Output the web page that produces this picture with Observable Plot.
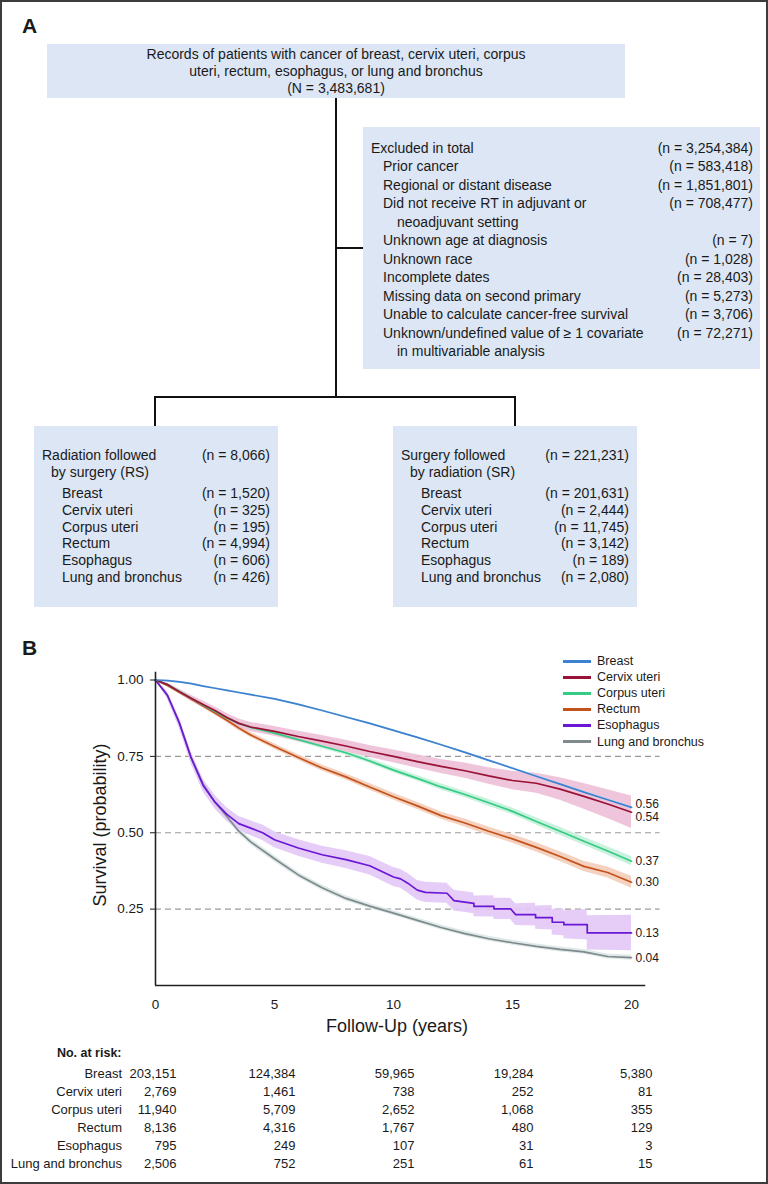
<!DOCTYPE html>
<html><head><meta charset="utf-8">
<script src="https://cdn.jsdelivr.net/npm/d3@7"></script>
<script src="https://cdn.jsdelivr.net/npm/@observablehq/plot@0.6"></script>
<style>
html,body{margin:0;padding:0;background:#fff;}
#fig{position:relative;width:768px;height:1184px;overflow:hidden;font-family:"Liberation Sans",Arial,Helvetica,sans-serif;color:#1a1a1a;background:#fff;}
#frame{position:absolute;left:0;top:0;width:768px;height:1184px;box-sizing:border-box;border:2px solid #3c3c3c;pointer-events:none;}
.t{position:absolute;white-space:nowrap;}
.box{position:absolute;background:#dce6f5;}
.ln{position:absolute;background:#111;}
</style></head><body><div id="fig"><div id="frame"></div></div>
<script>
// ---------------- data ----------------
const sites = ["Breast","Cervix uteri","Corpus uteri","Rectum","Esophagus","Lung and bronchus"];
const topLines = ["Records of patients with cancer of breast, cervix uteri, corpus","uteri, rectum, esophagus, or lung and bronchus","(N = 3,483,681)"];
const exclusionLabels = ["Excluded in total","Prior cancer","Regional or distant disease","Did not receive RT in adjuvant or","neoadjuvant setting","Unknown age at diagnosis","Unknown race","Incomplete dates","Missing data on second primary","Unable to calculate cancer-free survival","Unknown/undefined value of \u2265 1 covariate","in multivariable analysis"];
const exclusionCounts = [3254384,583418,1851801,708477,null,7,1028,28403,5273,3706,72271,null];
const exclusionLevels = [0,1,1,1,2,1,1,1,1,1,1,2];
const rsTitle = ["Radiation followed","by surgery (RS)"];
const srTitle = ["Surgery followed","by radiation (SR)"];
const rsTotal = 8066, srTotal = 221231;
const rsCounts = [1520,325,195,4994,606,426];
const srCounts = [201631,2444,11745,3142,189,2080];

const years = [0,0.5,1,1.5,2,2.5,3,3.5,4,5,6,7,8,9,10,11,12,13,14,15,16,17,18,19,20];
const survBreast = [1,0.998,0.994,0.988,0.98,0.973,0.966,0.959,0.952,0.938,0.920,0.900,0.879,0.858,0.835,0.812,0.788,0.763,0.737,0.711,0.685,0.659,0.633,0.608,0.583];
const survCervix = [1,0.985,0.962,0.94,0.92,0.9,0.877,0.858,0.846,0.832,0.815,0.800,0.784,0.766,0.750,0.733,0.717,0.703,0.686,0.671,0.662,0.643,0.619,0.594,0.567];
const survCorpus = [1,0.985,0.963,0.94,0.918,0.897,0.876,0.858,0.845,0.826,0.805,0.783,0.762,0.735,0.705,0.678,0.650,0.625,0.598,0.570,0.537,0.505,0.472,0.440,0.407];
const survRectum = [1,0.982,0.96,0.938,0.915,0.892,0.868,0.843,0.82,0.782,0.746,0.712,0.683,0.650,0.618,0.588,0.556,0.532,0.505,0.480,0.452,0.422,0.390,0.370,0.338];
const survLung = [1,0.95,0.86,0.745,0.66,0.6,0.553,0.505,0.47,0.415,0.362,0.320,0.285,0.260,0.237,0.213,0.190,0.170,0.153,0.140,0.128,0.118,0.110,0.095,0.091];
const ciBreast = [0,0.002,0.002,0.002,0.002,0.002,0.002,0.002,0.002,0.002,0.002,0.002,0.002,0.002,0.002,0.002,0.002,0.003,0.003,0.003,0.003,0.003,0.003,0.003,0.003];
const ciCervix = [0,0.005,0.008,0.01,0.011,0.012,0.013,0.014,0.015,0.016,0.017,0.018,0.019,0.02,0.021,0.022,0.023,0.025,0.027,0.03,0.033,0.037,0.042,0.047,0.053];
const ciCorpus = [0,0.003,0.004,0.005,0.005,0.006,0.006,0.006,0.007,0.007,0.007,0.008,0.008,0.008,0.009,0.009,0.01,0.01,0.011,0.011,0.012,0.013,0.013,0.014,0.015];
const ciRectum = [0,0.004,0.005,0.006,0.007,0.007,0.008,0.008,0.008,0.009,0.009,0.01,0.01,0.011,0.011,0.012,0.012,0.013,0.014,0.014,0.015,0.016,0.017,0.018,0.02];
const ciLung = [0,0.006,0.008,0.009,0.01,0.01,0.01,0.01,0.01,0.01,0.009,0.009,0.009,0.008,0.008,0.008,0.008,0.008,0.008,0.008,0.008,0.008,0.008,0.008,0.008];

const esoYears = [0,0.5,1,1.5,2,2.5,3,3.5,4,4.5,5,6,7,8,9,10,10.3,10.6,11,11.34,12.25,12.54,13.38,13.38,14.22,14.22,14.92,15.13,15.97,15.97,16.67,16.67,17.16,17.16,18.14,18.14,20];
const survEso = [1,0.95,0.86,0.745,0.655,0.6,0.56,0.53,0.515,0.5,0.477,0.45,0.428,0.412,0.392,0.355,0.349,0.335,0.312,0.305,0.302,0.278,0.269,0.259,0.259,0.251,0.251,0.232,0.232,0.222,0.222,0.207,0.207,0.199,0.199,0.172,0.172];
const ciEso = [0,0.012,0.018,0.02,0.021,0.022,0.022,0.023,0.024,0.025,0.026,0.027,0.028,0.029,0.03,0.031,0.031,0.032,0.032,0.033,0.033,0.034,0.034,0.034,0.035,0.035,0.035,0.036,0.037,0.038,0.04,0.042,0.044,0.046,0.05,0.056,0.058];

const endLabels = ["0.56","0.54","0.37","0.30","0.13","0.04"];
const lineColors = ["#3b82d0","#9a1237","#34cc85","#c4521c","#6b17d6","#7f8a8c"];
const bandColors = ["#c8dcf3","#ecbfd6","#c4f0da","#f3cdb8","#e2c8f6","#dbe7e7"];

const xTicks = [0,5,10,15,20];
const yTicks = [0.25,0.5,0.75,1];
const gridLevels = [0.25,0.5,0.75];

const riskYears = [0,5,10,15,20];
const riskBreast = [203151,124384,59965,19284,5380];
const riskCervix = [2769,1461,738,252,81];
const riskCorpus = [11940,5709,2652,1068,355];
const riskRectum = [8136,4316,1767,480,129];
const riskEso = [795,249,107,31,3];
const riskLung = [2506,752,251,61,15];

// ---------------- helpers ----------------
const fig = document.getElementById("fig");
const fmt = d3.format(",");
function addText(str, x, yc, o = {}) {
  const size = o.size || 14, lh = o.lh || 18;
  const d = document.createElement("div");
  d.className = "t";
  d.textContent = str;
  d.style.fontSize = size + "px";
  d.style.lineHeight = lh + "px";
  d.style.top = (yc - lh / 2) + "px";
  if (o.weight) d.style.fontWeight = o.weight;
  if (o.font) d.style.fontFamily = o.font;
  if (o.anchor === "end") d.style.right = (768 - x) + "px";
  else if (o.anchor === "middle") { d.style.left = (x - 400) + "px"; d.style.width = "800px"; d.style.textAlign = "center"; }
  else d.style.left = x + "px";
  fig.appendChild(d);
  return d;
}
function addBox(cls, l, t, w, h, bg) {
  const d = document.createElement("div");
  d.className = cls;
  Object.assign(d.style, {left: l + "px", top: t + "px", width: w + "px", height: h + "px"});
  if (bg) d.style.background = bg;
  fig.appendChild(d);
  return d;
}

// ---------------- Panel A ----------------
addText("A", 22, 25.5, {size: 21, weight: "bold", lh: 24});
addBox("box", 47, 44, 578, 54);
topLines.forEach((s, i) => addText(s, 336, 54.5 + i * 16.8, {anchor: "middle", lh: 17}));

addBox("ln", 335, 98, 2, 300);
addBox("ln", 335, 247, 28, 2);
addBox("ln", 154, 396, 362, 2);
addBox("ln", 154, 396, 2, 30);
addBox("ln", 514, 396, 2, 30);

addBox("box", 363, 127, 397, 242);
const indentX = [371, 383, 397];
exclusionLabels.forEach((s, i) => {
  const yc = 147.5 + i * 18.5;
  addText(s, indentX[exclusionLevels[i]], yc);
  if (exclusionCounts[i] != null) addText(`(n = ${fmt(exclusionCounts[i])})`, 753, yc, {anchor: "end"});
});

function groupBox(left, title, total, counts) {
  addBox("box", left, 426, 244, 181);
  addText(title[0], left + 8, 455);
  addText(`(n = ${fmt(total)})`, left + 236, 455, {anchor: "end"});
  addText(title[1], left + 17, 472);
  sites.forEach((s, i) => {
    const yc = 493 + i * 16.8;
    addText(s, left + 28, yc);
    addText(`(n = ${fmt(counts[i])})`, left + 236, yc, {anchor: "end"});
  });
}
groupBox(34, rsTitle, rsTotal, rsCounts);
groupBox(393, srTitle, srTotal, srCounts);

// ---------------- Panel B ----------------
addText("B", 22, 647.5, {size: 21, weight: "bold", lh: 24});

const series = [
  {site: sites[0], t: years, s: survBreast, ci: ciBreast},
  {site: sites[1], t: years, s: survCervix, ci: ciCervix},
  {site: sites[2], t: years, s: survCorpus, ci: ciCorpus},
  {site: sites[3], t: years, s: survRectum, ci: ciRectum},
  {site: sites[4], t: esoYears, s: survEso, ci: ciEso},
  {site: sites[5], t: years, s: survLung, ci: ciLung}
].map((d, k) => ({...d, color: lineColors[k], band: bandColors[k], label: endLabels[k],
  rows: d.t.map((t, i) => ({t, s: d.s[i], lo: d.s[i] - d.ci[i], hi: d.s[i] + d.ci[i]}))}));

const drawOrder = [5, 4, 3, 2, 1, 0];
const labelDy = [-3, 5, 0, 0, 0, 0];

const marks = [
  Plot.ruleY(gridLevels, {x1: 0, x2: 21.2, stroke: "#9a9a9a", strokeWidth: 1.2, strokeDasharray: "6,4"})
];
drawOrder.forEach(k => marks.push(Plot.areaY(series[k].rows, {x: "t", y1: "lo", y2: "hi", fill: series[k].band, fillOpacity: 0.9})));
drawOrder.forEach(k => marks.push(Plot.line(series[k].rows, {x: "t", y: "s", stroke: series[k].color, strokeWidth: 1.7})));
series.forEach((d, k) => marks.push(Plot.text([d.rows[d.rows.length - 1]], {x: "t", y: "s", text: () => d.label, dx: 4, dy: labelDy[k], textAnchor: "start", fontSize: 12, fill: "#1a1a1a"})));
marks.push(
  Plot.ruleX([0], {y1: 0, y2: 1.025, stroke: "#222", strokeWidth: 1.6}),
  Plot.ruleY([0], {x1: 0, x2: 20.6, stroke: "#222", strokeWidth: 1.6}),
  Plot.axisY({ticks: yTicks, tickFormat: d3.format(".2f"), tickSize: 5, tickPadding: 7, label: null}),
  Plot.axisX({ticks: xTicks, tickSize: 0, tickPadding: 14, label: null})
);

const chart = Plot.plot({
  width: 768, height: 400,
  marginTop: 39.5, marginBottom: 55, marginLeft: 155, marginRight: 137,
  x: {domain: [0, 20]},
  y: {domain: [0, 1]},
  style: {fontFamily: "'Liberation Sans', Arial, sans-serif", fontSize: "13.5px", color: "#1a1a1a", background: "transparent", overflow: "visible"},
  marks
});
Object.assign(chart.style, {position: "absolute", left: "0px", top: "640px"});
fig.appendChild(chart);

// axis titles
const yl = addText("Survival (probability)", 100, 825, {anchor: "middle", size: 18, lh: 22});
yl.style.transform = "rotate(-90deg)";
addText("Follow-Up (years)", 397, 1026, {anchor: "middle", size: 18, lh: 22});

// legend
series.forEach((d, k) => {
  const yc = 661 + k * 16.1;
  addBox("ln", 563, yc - 1.5, 28, 3, d.color);
  addText(d.site, 597, yc, {size: 12.5, lh: 16});
});

// at-risk table
addText("No. at risk:", 121.5, 1053, {anchor: "end", size: 12.5, weight: "bold", lh: 16});
const riskTable = [riskBreast, riskCervix, riskCorpus, riskRectum, riskEso, riskLung];
const riskRows = sites.flatMap((site, i) => riskYears.map((yr, j) => ({site, yr, n: riskTable[i][j]})));
const risk = Plot.plot({
  width: 768, height: 120,
  marginTop: 10.7, marginBottom: 15, marginLeft: 155, marginRight: 137,
  x: {domain: [0, 20], axis: null},
  y: {type: "point", domain: sites, range: [10.7, 105], padding: 0, axis: null},
  style: {fontFamily: "'Liberation Sans', Arial, sans-serif", fontSize: "13px", color: "#1a1a1a", background: "transparent", overflow: "visible"},
  marks: [
    Plot.text(sites, {x: 0, y: d => d, text: d => d, textAnchor: "end", dx: -33.5, fontSize: 13}),
    Plot.text(riskRows, {x: "yr", y: "site", text: d => fmt(d.n), textAnchor: "end", dx: 21, fontSize: 13})
  ]
});
Object.assign(risk.style, {position: "absolute", left: "0px", top: "1060px"});
fig.appendChild(risk);
fig.appendChild(document.getElementById("frame"));
</script></body></html>
